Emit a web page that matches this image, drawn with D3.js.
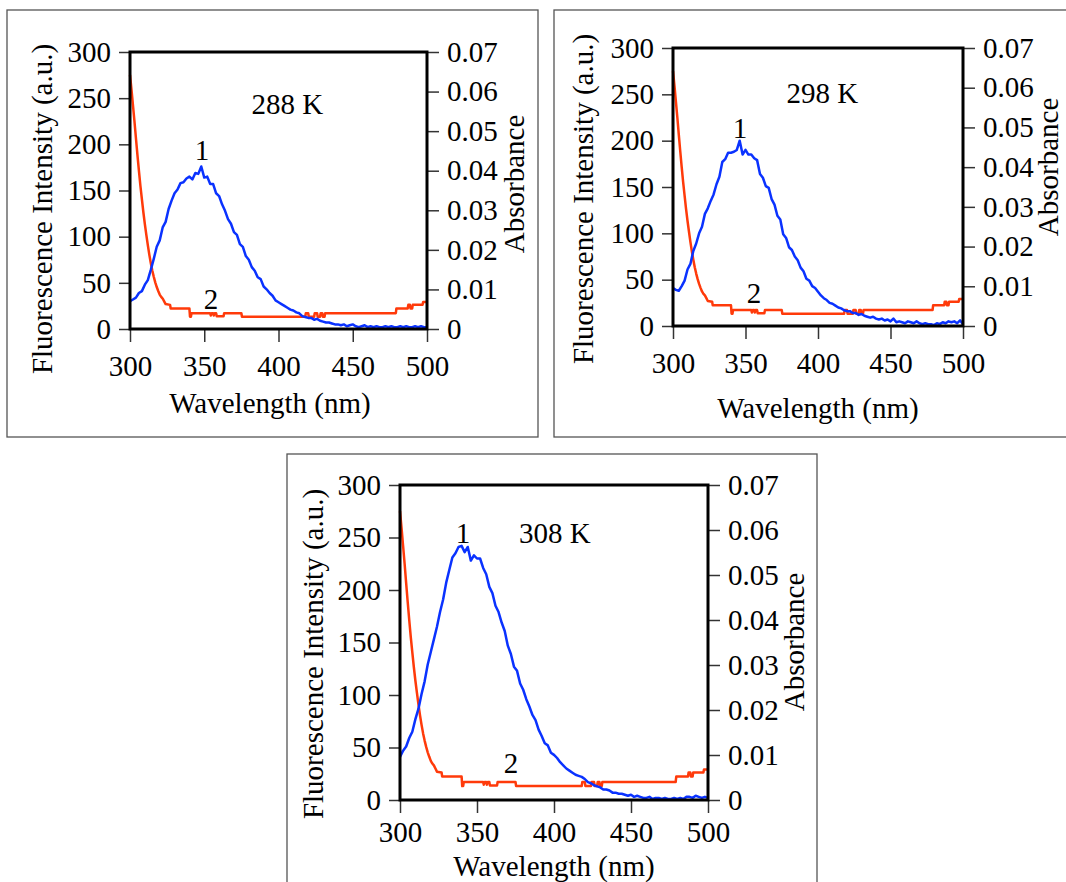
<!DOCTYPE html>
<html>
<head>
<meta charset="utf-8">
<script src="https://cdnjs.cloudflare.com/ajax/libs/d3/7.8.5/d3.min.js"></script>
<style>
  body { margin: 0; background: #fff; }
  svg text { font-family: "Liberation Serif", "Times New Roman", serif; }
</style>
</head>
<body>
<svg id="chart" width="1066" height="882"></svg>
<script>
// fluorescence spectra, every 2 nm
var wavelengths = [300,302,304,306,308,310,312,314,316,318,320,322,324,326,328,330,332,334,336,338,
  340,342,344,346,348,350,352,354,356,358,360,362,364,366,368,370,372,374,376,378,
  380,382,384,386,388,390,392,394,396,398,400,402,404,406,408,410,412,414,416,418,
  420,422,424,426,428,430,432,434,436,438,440,442,444,446,448,450,452,454,456,458,
  460,462,464,466,468,470,472,474,476,478,480,482,484,486,488,490,492,494,496,498,500];

var fluor288 = [30,32,34,39,41,48,53,64,76,89,
  96,110,116,130,139,147,151,158,159,163,
  165,162,169,168,176,164,165,157,157,147,
  144,135,128,119,114,105,102,92,89,79,
  75,67,63,56,54,46,43,39,36,31,
  29,27,25,23,21,20,18,17,14,13,
  12,12,10,11,9,8,7,7,6,5,
  5,4,5,3,4,5,3,2,3,4,
  2,3,2,3,2,2,3,2,3,2,
  2,3,2,3,2,2,3,2,3,2,
  2];

var fluor298 = [41,39,38,43,49,61,67,81,89,100,
  107,121,127,135,142,153,161,177,180,187,
  187,188,190,200,185,190,185,185,181,179,
  164,160,151,149,137,131,119,115,99,95,
  85,82,75,71,63,59,51,49,43,41,
  37,33,30,28,25,24,22,20,19,17,
  16,16,14,14,12,13,11,10,9,10,
  8,7,8,6,7,5,8,4,5,4,
  3,5,4,3,5,3,2,3,2,2,
  1,3,2,4,3,5,4,5,3,6,
  2];

var fluor308 = [41,47,51,59,65,77,87,101,113,129,
  141,153,165,179,191,207,219,231,235,241,
  242,236,241,228,233,230,230,221,215,203,
  197,185,179,169,161,147,139,127,123,111,
  105,96,89,81,76,67,61,54,52,45,
  43,40,36,33,30,28,26,24,23,22,
  20,17,16,14,13,12,10,10,9,7,
  7,6,6,5,4,5,3,4,3,2,
  2,3,1,2,2,1,2,1,1,2,
  1,2,1,3,3,2,4,3,2,3,
  2];

// absorbance spectrum (same in all three panels), step-like tail
var absWl = [300,301,302,303,304,305,306,307,308,309,310,311,312,313,314,315,316,317,318,319,
  320,321,322,323,324,327,327.4,340,340.4,341,341.4,354,354.4,355,356,356.4,357,358,358.4,363,
  363.4,375,375.4,418,418.4,420,420.4,424,424.4,426,426.4,428,428.4,429.5,429.9,431,431.4,479,479.4,487,
  487.4,488.5,488.9,490,490.4,497,497.4,500];
var absVal = [0.0642,0.0605,0.0565,0.0525,0.0482,0.0440,0.0400,0.0362,0.0328,0.0295,0.0265,0.0238,0.0212,0.0188,0.0167,0.0148,0.0132,0.0118,0.0106,0.0096,
  0.0087,0.0081,0.0077,0.0070,0.0063,0.0061,0.0052,0.0052,0.0031,0.0031,0.0040,0.0040,0.0034,0.0040,0.0040,0.0034,0.0040,0.0040,0.0032,0.0032,
  0.0040,0.0040,0.0031,0.0031,0.0040,0.0040,0.0031,0.0031,0.0040,0.0040,0.0031,0.0031,0.0040,0.0040,0.0031,0.0031,0.0040,0.0040,0.0052,0.0052,
  0.0061,0.0061,0.0052,0.0052,0.0061,0.0061,0.0068,0.0068];

var xTicks = [300, 350, 400, 450, 500];
var yTicks = [0, 50, 100, 150, 200, 250, 300];
var absTicks = [0, 0.01, 0.02, 0.03, 0.04, 0.05, 0.06, 0.07];
var temps = ["288 K", "298 K", "308 K"];

// annotation anchors in data units: [wavelength, intensity]
var tempPos = [[406, 233], [403, 241], [400.6, 245]];
var label1Pos = [[348.5, 183], [346.2, 203], [340.9, 245]];
var label2Pos = [[354.5, 22], [355.9, 25], [372, 26]];

var svg = d3.select("#chart");
var blue = "#0a32ff", red = "#ff3a0a";
var fs = 29;

// panel boxes and plot areas (pixels)
var panels = [
  { box: [7, 10, 531, 427], l: 130, r: 427, t: 52, b: 329,
    lt: [43, 209], rt: [514, 184], bt: [270, 413], pad: 13 },
  { box: [554, 10, 530, 427], l: 673, r: 963, t: 48, b: 326,
    lt: [584, 199], rt: [1048, 167], bt: [818, 418], pad: 13 },
  { box: [287, 454, 530, 450], l: 400, r: 708, t: 485, b: 800,
    lt: [314, 654], rt: [794, 642], bt: [554, 876], pad: 8 }
];
var series = [fluor288, fluor298, fluor308];

function styleAxis(g) {
  g.select(".domain").remove();
  g.selectAll(".tick line").attr("stroke", "#333").attr("stroke-width", 1.5);
  g.selectAll(".tick text").attr("font-size", fs)
    .attr("font-family", "Liberation Serif").attr("fill", "#000");
}

panels.forEach(function(p, i) {
  var g = svg.append("g");

  g.append("rect")
    .attr("x", p.box[0]).attr("y", p.box[1])
    .attr("width", p.box[2]).attr("height", p.box[3])
    .attr("fill", "none").attr("stroke", "#555").attr("stroke-width", 1.3);

  var x = d3.scaleLinear().domain([300, 500]).range([p.l, p.r]);
  var y = d3.scaleLinear().domain([0, 300]).range([p.b, p.t]);
  var y2 = d3.scaleLinear().domain([0, 0.07]).range([p.b, p.t]);

  g.append("g").attr("transform", "translate(0," + p.b + ")")
    .call(d3.axisBottom(x).tickValues(xTicks).tickSize(13).tickPadding(p.pad))
    .call(styleAxis);
  g.append("g").attr("transform", "translate(" + p.l + ",0)")
    .call(d3.axisLeft(y).tickValues(yTicks).tickSize(11).tickPadding(8))
    .call(styleAxis);
  g.append("g").attr("transform", "translate(" + p.r + ",0)")
    .call(d3.axisRight(y2).tickValues(absTicks).tickSize(12).tickPadding(8)
      .tickFormat(function(d) { return d === 0 ? "0" : d3.format(".2f")(d); }))
    .call(styleAxis);

  var fl = d3.line()
    .x(function(d, j) { return x(wavelengths[j]); })
    .y(function(d) { return y(d); });
  var ab = d3.line()
    .x(function(d, j) { return x(absWl[j]); })
    .y(function(d) { return y2(d); });

  g.append("path").datum(absVal).attr("d", ab)
    .attr("fill", "none").attr("stroke", red).attr("stroke-width", 2.5)
    .attr("stroke-linejoin", "round");
  g.append("path").datum(series[i]).attr("d", fl)
    .attr("fill", "none").attr("stroke", blue).attr("stroke-width", 2.5)
    .attr("stroke-linejoin", "round");

  // plot frame
  g.append("rect")
    .attr("x", p.l).attr("y", p.t)
    .attr("width", p.r - p.l).attr("height", p.b - p.t)
    .attr("fill", "none").attr("stroke", "#000").attr("stroke-width", 3);

  g.append("text").attr("x", x(tempPos[i][0])).attr("y", y(tempPos[i][1]))
    .attr("text-anchor", "middle").attr("font-size", fs).text(temps[i]);
  g.append("text").attr("x", x(label1Pos[i][0])).attr("y", y(label1Pos[i][1]))
    .attr("text-anchor", "middle").attr("font-size", fs).text("1");
  g.append("text").attr("x", x(label2Pos[i][0])).attr("y", y(label2Pos[i][1]))
    .attr("text-anchor", "middle").attr("font-size", fs).text("2");

  g.append("text")
    .attr("transform", "translate(" + p.lt[0] + "," + p.lt[1] + ") rotate(-90)")
    .attr("text-anchor", "middle").attr("dy", "0.3em").attr("font-size", fs)
    .text("Fluorescence Intensity (a.u.)");
  g.append("text")
    .attr("transform", "translate(" + p.rt[0] + "," + p.rt[1] + ") rotate(-90)")
    .attr("text-anchor", "middle").attr("dy", "0.35em").attr("font-size", fs)
    .text("Absorbance");
  g.append("text")
    .attr("x", p.bt[0]).attr("y", p.bt[1])
    .attr("text-anchor", "middle").attr("font-size", fs)
    .text("Wavelength (nm)");
});
</script>
</body>
</html>
